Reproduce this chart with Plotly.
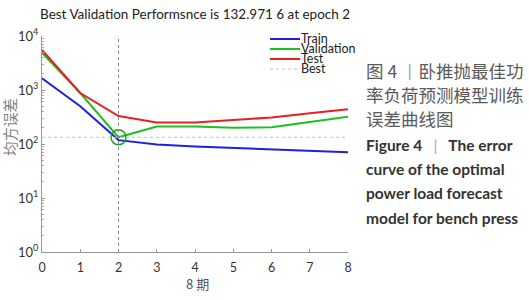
import plotly.graph_objects as go

epochs = [0, 1, 2, 3, 4, 5, 6, 7, 8]
train = [1650, 500, 118, 98, 90, 84, 79, 75, 70]
validation = [4900, 880, 133, 210, 210, 200, 205, 255, 320]
test = [5500, 880, 330, 250, 250, 275, 310, 370, 440]
best_epoch = 2
best_value = 132.9716
series_names = ["Train", "Validation", "Test", "Best"]
series_colors = ["#1f1fe0", "#1fbf1f", "#e82020", "#b8c8b8"]
y_tick_vals = [1, 10, 100, 1000, 10000]
y_tick_text = ["10<sup>0</sup>", "10<sup>1</sup>", "10<sup>2</sup>", "10<sup>3</sup>", "10<sup>4</sup>"]
y_minor_vals = [d * 10 ** k for k in range(4) for d in range(2, 10)]

NB = "\u00a0"
title_text = "Best Validation Performsnce is 132.971 6 at epoch 2"
x_title = "8 期"
y_title = "均方误差"
caption_cn = ["图 4 <span style='color:#aaa'>丨</span>卧推抛最佳功", "率负荷预测模型训练", "误差曲线图"]
caption_en = ["Figure 4" + NB * 3 + "<span style='color:#aaa;font-weight:normal'>|</span>" + NB * 3 + "The error",
              "curve of the optimal", "power load forecast", "model for bench press"]

W, H = 529, 300
L, R, T, B = 42, 348, 36, 252
FONT = "Lato"


def px(x):
    return (x - L) / (R - L)


def py(y):
    return (B - y) / (B - T)


fig = go.Figure()
for name, ys, col in zip(series_names[:3], [train, validation, test], series_colors[:3]):
    fig.add_trace(go.Scatter(x=epochs, y=ys, mode="lines", name=name,
                             line=dict(color=col, width=2), showlegend=False))
fig.add_trace(go.Scatter(x=[best_epoch], y=[best_value], mode="markers", showlegend=False,
                         marker=dict(symbol="circle-open", size=15, color="#1f9f1f",
                                     line=dict(color="#1f9f1f", width=1.5))))
fig.add_hline(y=best_value, line=dict(color=series_colors[3], width=1, dash="dot"))
fig.add_vline(x=best_epoch, line=dict(color="#888", width=1, dash="dot"))

# manual compact legend
leg_y = [38, 48, 58, 68]
for i, (name, col) in enumerate(zip(series_names, series_colors)):
    yy = py(leg_y[i] + 1)
    fig.add_shape(type="line", xref="paper", yref="paper", x0=px(270), x1=px(300), y0=yy, y1=yy,
                  line=dict(color=col, width=2 if i < 3 else 1, dash="solid" if i < 3 else "dot"))
    fig.add_annotation(xref="paper", yref="paper", x=px(299), y=py(leg_y[i]), text=name, showarrow=False,
                       xanchor="left", yanchor="middle", font=dict(family=FONT, size=12.5, color="#222"))

fig.add_annotation(xref="paper", yref="paper", x=px(195), y=py(14), text=title_text,
                   showarrow=False, xanchor="center", yanchor="middle",
                   font=dict(family=FONT, size=13.5, color="#222"))
fig.add_annotation(xref="paper", yref="paper", x=px(197), y=py(283), text=x_title,
                   showarrow=False, xanchor="center", yanchor="middle",
                   font=dict(family="Noto Sans CJK SC", size=13, color="#555"))
fig.add_annotation(xref="paper", yref="paper", x=px(9), y=py(127), text=y_title,
                   showarrow=False, textangle=-90, xanchor="center", yanchor="middle",
                   font=dict(family="Noto Sans CJK SC", size=14.5, color="#808080"))

cn_y = [70, 94, 118]
for t, yp in zip(caption_cn, cn_y):
    fig.add_annotation(xref="paper", yref="paper", x=px(364), y=py(yp), text=t,
                       showarrow=False, xanchor="left", yanchor="middle",
                       font=dict(family="Noto Sans CJK SC", size=17.5, color="#5a5a5a"))
en_y = [145, 169, 193, 218]
for t, yp in zip(caption_en, en_y):
    fig.add_annotation(xref="paper", yref="paper", x=px(364), y=py(yp), text="<b>" + t + "</b>",
                       showarrow=False, xanchor="left", yanchor="middle",
                       font=dict(family=FONT, size=15.5, color="#333"))

fig.update_layout(
    width=W, height=H, paper_bgcolor="white", plot_bgcolor="white",
    margin=dict(l=L, r=W - R, t=T, b=H - B),
    font=dict(family=FONT, size=12, color="#333"),
    showlegend=False,
)
fig.update_xaxes(range=[0, 8], tickvals=epochs, showgrid=False, zeroline=False, automargin=False,
                 showline=True, linecolor="#999", linewidth=1, ticks="inside", ticklen=3,
                 ticklabelstandoff=4,
                 tickcolor="#999", tickfont=dict(family=FONT, size=12.5, color="#333"))
fig.update_yaxes(type="log", range=[0, 4], tickvals=y_tick_vals, ticktext=y_tick_text, showgrid=False,
                 zeroline=False, showline=True, linecolor="#999", linewidth=1, ticks="inside",
                 automargin=False, ticklen=3, tickcolor="#999",
                 tickfont=dict(family=FONT, size=13, color="#333"),
                 minor=dict(ticks="inside", ticklen=2, tickcolor="#aaa", tickvals=y_minor_vals,
                            showgrid=False))

fig.write_html("out.html", post_script="document.body.style.margin='0';",
               config={"displayModeBar": False})
